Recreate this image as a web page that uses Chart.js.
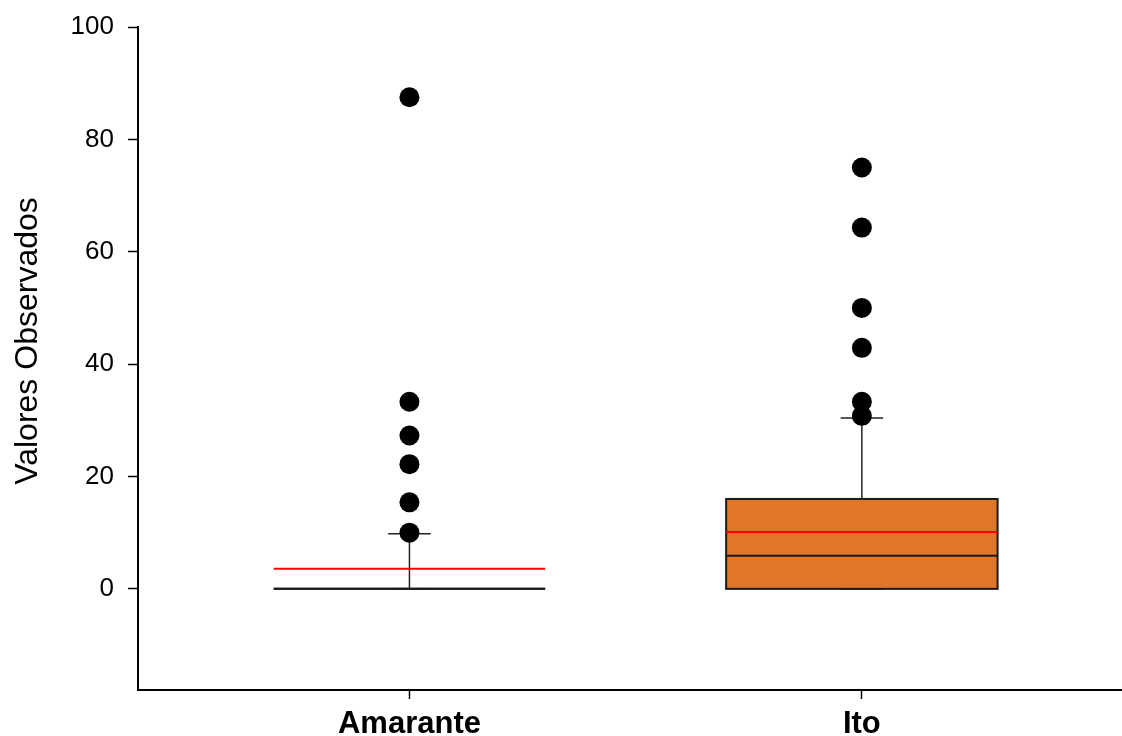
<!DOCTYPE html>
<html>
<head>
<meta charset="utf-8">
<script src="https://cdn.jsdelivr.net/npm/chart.js@4/dist/chart.umd.min.js"></script>
<style>
  html, body { margin: 0; padding: 0; background: #fff; }
  #wrap { width: 1122px; height: 736px; }
</style>
</head>
<body>
<div id="wrap"><canvas id="boxChart" width="1122" height="736"></canvas></div>
<script>
// data
const categories = ['Amarante', 'Ito'];
const q1 = [0, 0];
const q3 = [0, 16];
const medians = [0, 5.9];
const means = [3.56, 10.1];
const whiskerLow = [0, 0];
const whiskerHigh = [9.8, 30.4];
const amaranteOutliers = [10, 15.4, 22.2, 27.3, 33.3, 87.5];
const itoOutliers = [30.8, 33.3, 42.9, 50, 64.3, 75];
const yTicks = [0, 20, 40, 60, 80, 100];

let orange = '#e07628';
let red = '#ff0000';
let fontFam = '"Liberation Sans", Arial, sans-serif';

// box, whiskers, median and mean lines, drawn under the outlier dots
const boxPlugin = {
  id: 'boxes',
  beforeDatasetsDraw(chart) {
    const ctx = chart.ctx;
    const xs = chart.scales.x;
    const ys = chart.scales.y;
    const halfBox = 0.3;
    const halfCap = 0.047;

    ctx.save();
    for (let i = 0; i < categories.length; i++) {
      let cx = xs.getPixelForValue(i + 1);
      let left = xs.getPixelForValue(i + 1 - halfBox);
      let right = xs.getPixelForValue(i + 1 + halfBox);
      let capL = xs.getPixelForValue(i + 1 - halfCap);
      let capR = xs.getPixelForValue(i + 1 + halfCap);
      let top = ys.getPixelForValue(q3[i]);
      let bottom = ys.getPixelForValue(q1[i]);

      // whiskers
      ctx.strokeStyle = '#222';
      ctx.lineWidth = 1.5;
      ctx.beginPath();
      ctx.moveTo(cx, top);
      ctx.lineTo(cx, ys.getPixelForValue(whiskerHigh[i]));
      ctx.moveTo(cx, bottom);
      ctx.lineTo(cx, ys.getPixelForValue(whiskerLow[i]));
      ctx.stroke();
      ctx.beginPath();
      let yh = ys.getPixelForValue(whiskerHigh[i]);
      let yl = ys.getPixelForValue(whiskerLow[i]);
      ctx.moveTo(capL, yh); ctx.lineTo(capR, yh);
      ctx.moveTo(capL, yl); ctx.lineTo(capR, yl);
      ctx.stroke();

      // box
      if (bottom - top > 0) {
        ctx.fillStyle = orange;
        ctx.fillRect(left, top, right - left, bottom - top);
      }
      ctx.strokeStyle = '#1a1a1a';
      ctx.lineWidth = 2;
      ctx.strokeRect(left, top, right - left, bottom - top);

      // median
      let ym = ys.getPixelForValue(medians[i]);
      ctx.beginPath();
      ctx.moveTo(left, ym); ctx.lineTo(right, ym);
      ctx.stroke();

      // mean
      let ymean = ys.getPixelForValue(means[i]);
      ctx.strokeStyle = red;
      ctx.lineWidth = 2;
      ctx.beginPath();
      ctx.moveTo(left, ymean); ctx.lineTo(right, ymean);
      ctx.stroke();
    }
    ctx.restore();
  },
  afterDraw(chart) {
    const ctx = chart.ctx;
    ctx.save();
    ctx.translate(37, 341);
    ctx.rotate(-Math.PI / 2);
    ctx.font = '32px ' + fontFam;
    ctx.fillStyle = '#000';
    ctx.textAlign = 'center';
    ctx.textBaseline = 'alphabetic';
    ctx.fillText('Valores Observados', 0, 0);
    ctx.restore();
  }
};

const ctx = document.getElementById('boxChart');

new Chart(ctx, {
  type: 'scatter',
  data: {
    datasets: [
      {
        label: categories[0],
        data: amaranteOutliers.map(v => ({ x: 1, y: v })),
        backgroundColor: '#000',
        borderWidth: 0,
        pointRadius: 10
      },
      {
        label: categories[1],
        data: itoOutliers.map(v => ({ x: 2, y: v })),
        backgroundColor: '#000',
        borderWidth: 0,
        pointRadius: 10
      }
    ]
  },
  options: {
    responsive: false,
    animation: false,
    layout: {
      autoPadding: false,
      padding: { top: 27, right: 0, bottom: 0, left: 0 }
    },
    plugins: {
      legend: { display: false },
      tooltip: { enabled: false }
    },
    scales: {
      x: {
        type: 'linear',
        min: 0.4,
        max: 2.575,
        afterBuildTicks: s => { s.ticks = [{ value: 1 }, { value: 2 }]; },
        afterFit: s => { s.height = 46; },
        grid: {
          drawOnChartArea: false,
          drawTicks: true,
          tickLength: 9,
          tickWidth: 1.5,
          tickColor: '#000'
        },
        border: { display: true, color: '#000', width: 2 },
        ticks: {
          padding: 7,
          color: '#000',
          font: { family: fontFam, size: 31, weight: 'bold' },
          callback: v => categories[v - 1]
        }
      },
      y: {
        type: 'linear',
        min: -18,
        max: 100,
        afterBuildTicks: s => { s.ticks = yTicks.map(v => ({ value: v })); },
        afterFit: s => {
          s.width = 138;
          s.paddingTop = 10;
          s.paddingBottom = 10;
        },
        grid: {
          drawOnChartArea: false,
          drawTicks: true,
          tickLength: 10,
          tickWidth: 1.5,
          tickColor: '#000'
        },
        border: { display: true, color: '#000', width: 2 },
        ticks: {
          padding: 14,
          color: '#000',
          font: { family: fontFam, size: 26 }
        }
      }
    }
  },
  plugins: [boxPlugin]
});
</script>
</body>
</html>
